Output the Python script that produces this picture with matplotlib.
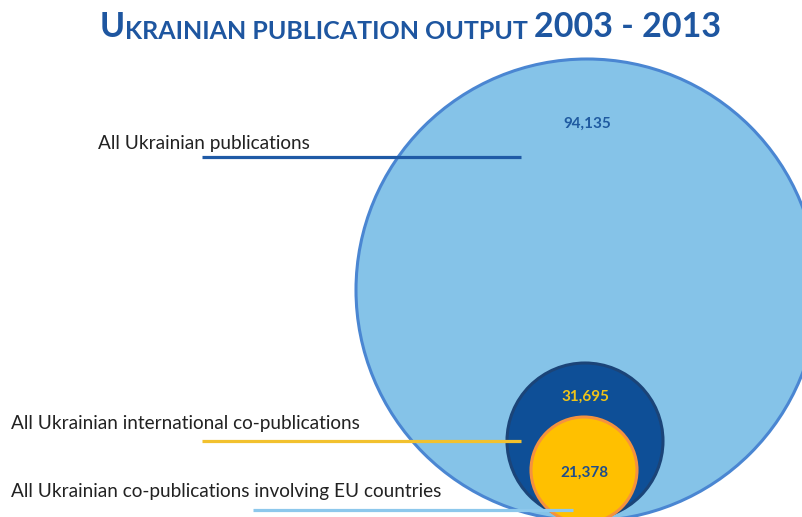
import matplotlib.pyplot as plt
from matplotlib.patches import Circle

# data
labels = ["All Ukrainian publications",
          "All Ukrainian international co-publications",
          "All Ukrainian co-publications involving EU countries"]
values = [94135, 31695, 21378]

# layout (pixel-like coordinates, y downwards)
centers = [(587, 290), (585, 441), (584, 470)]
radii = [231, 78, 53]
fills = ["#85C3E8", "#0E4F97", "#FFC000"]
edges = ["#4A86D2", "#1B4478", "#F5923E"]
value_colors = ["#1F5AA0", "#F0C419", "#1F4E8C"]
value_y = [124, 397, 473]
label_pos = [(98, 143), (11, 424), (11, 491)]
line_y = [157, 441, 510]
line_x = [(202, 521), (202, 521), (253, 573)]
line_colors = ["#1F5AA6", "#F2C12E", "#8DC8EC"]

fig = plt.figure(figsize=(8.03, 5.17), dpi=100)
ax = fig.add_axes([0, 0, 1, 1])
ax.set_xlim(0, 803)
ax.set_ylim(517, 0)
ax.axis("off")

for (cx, cy), r, fc, ec in zip(centers, radii, fills, edges):
    ax.add_patch(Circle((cx, cy), r, facecolor=fc, edgecolor=ec, lw=2.2))

for v, (cx, cy), y, c in zip(values, centers, value_y, value_colors):
    ax.text(cx, y, f"{v:,}", ha="center", va="center", fontsize=11,
            fontweight="bold", color=c, family="Lato")

for lab, (x, y) in zip(labels, label_pos):
    ax.text(x, y, lab, ha="left", va="center", fontsize=13.7, color="#222222",
            family="Lato")

for (x0, x1), y, c in zip(line_x, line_y, line_colors):
    ax.plot([x0, x1], [y, y], color=c, lw=2.3, solid_capstyle="butt")

# title in small caps, chained pieces
blue = "#1E56A0"
t1 = ax.text(100, 37, "U", fontsize=24.5, fontweight="bold", color=blue,
             family="Lato", ha="left", va="baseline")
t2 = ax.annotate("KRAINIAN PUBLICATION OUTPUT ", xy=(1, 0), xycoords=t1,
                 fontsize=18, fontweight="bold", color=blue, family="Lato",
                 ha="left", va="bottom")
t3 = ax.annotate("2003 - 2013", xy=(1, 0), xycoords=t2, fontsize=24.5,
                 fontweight="bold", color=blue, family="Lato",
                 ha="left", va="bottom")

fig.savefig("out.png", dpi=100)
